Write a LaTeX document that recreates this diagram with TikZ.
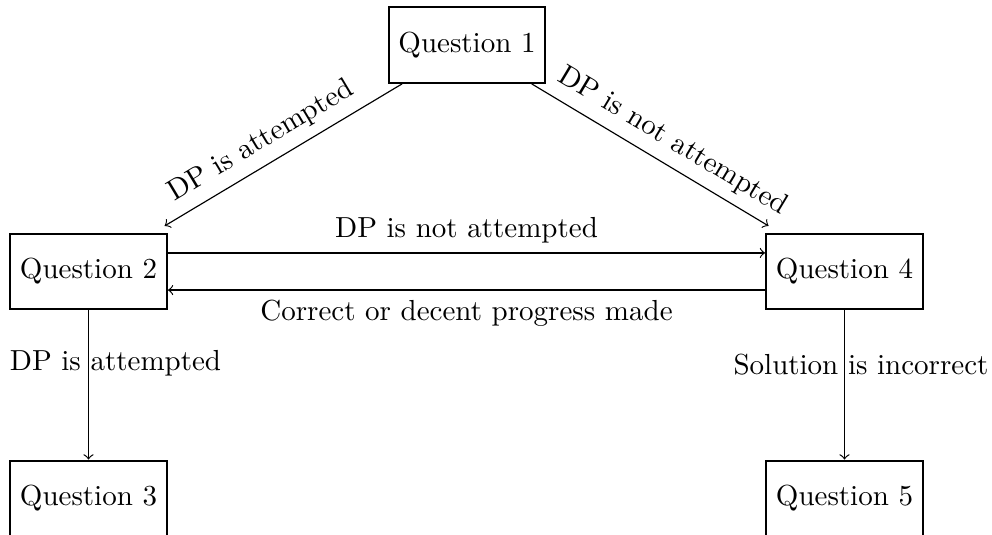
\documentclass[tikz,border=0pt]{standalone}
\begin{document}
\begin{tikzpicture}[x=0.3448pt,y=-0.3448pt,
  qbox/.style={draw,thick,minimum height=26pt,inner sep=3.333pt},
  conn/.style={->},
  lab/.style={inner sep=3.333pt}]
\useasboundingbox (0,0) rectangle (992,535);
% nodes
\node[qbox] (q1) at (467,45) {Question 1};
\node[qbox] (q2) at (88.5,271.5) {Question 2};
\node[qbox] (q4) at (844.5,271.5) {Question 4};
\node[qbox] (q3) at (88.5,498.5) {Question 3};
\node[qbox] (q5) at (844.5,498.5) {Question 5};
% diagonal connectors
\draw[conn, shorten >=4.5pt] (q1) -- node[lab, pos=0.52, above, sloped] {DP is attempted} (q2);
\draw[conn, shorten >=4.5pt] (q1) -- node[lab, pos=0.52, above, sloped] {DP is not attempted} (q4);
% horizontal connectors
\draw[conn] ([yshift=6.4pt]q2.east) -- node[lab, midway, above] {DP is not attempted} ([yshift=6.4pt]q4.west);
\draw[conn] ([yshift=-6.4pt]q4.west) -- node[lab, midway, below] {Correct or decent progress made} ([yshift=-6.4pt]q2.east);
% vertical connectors
\draw[conn] (q2) -- node[lab, pos=0.40, anchor=base, xshift=9.3pt] {DP is attempted} (q3);
\draw[conn] (q4) -- node[lab, pos=0.43, anchor=base, xshift=5.7pt] {Solution is incorrect} (q5);
\end{tikzpicture}
\end{document}
